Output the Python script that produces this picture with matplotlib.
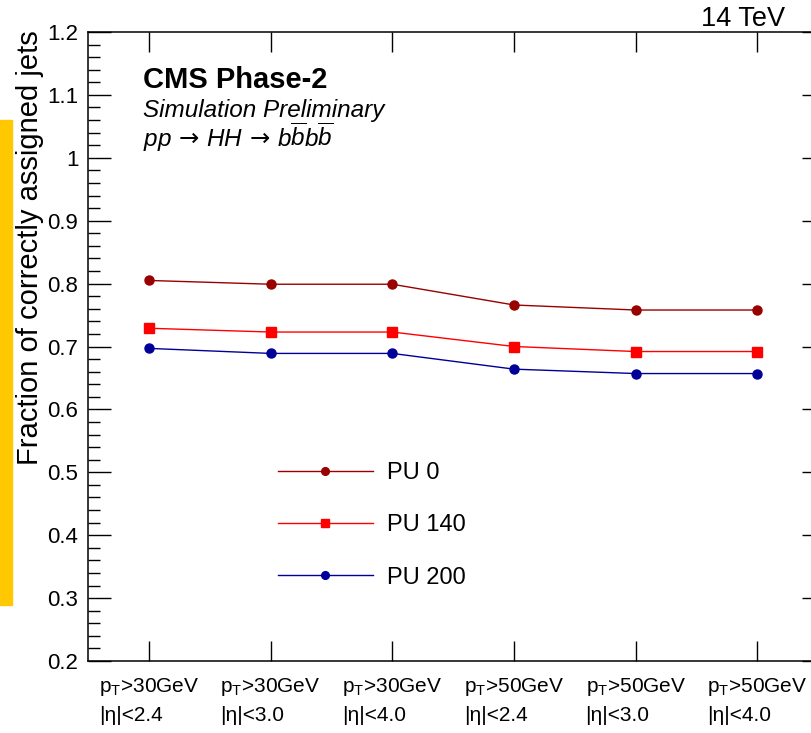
import matplotlib
matplotlib.use("Agg")
import matplotlib.pyplot as plt
from matplotlib.patches import Rectangle
from matplotlib.ticker import MultipleLocator

plt.rcParams["font.family"] = ["Liberation Sans", "DejaVu Sans"]
plt.rcParams["mathtext.fontset"] = "custom"
plt.rcParams["mathtext.rm"] = "Liberation Sans"
plt.rcParams["mathtext.it"] = "Liberation Sans:italic"
plt.rcParams["mathtext.bf"] = "Liberation Sans:bold"

# data
categories = [
    "p$_{\\mathrm{T}}$>30GeV\n|η|<2.4",
    "p$_{\\mathrm{T}}$>30GeV\n|η|<3.0",
    "p$_{\\mathrm{T}}$>30GeV\n|η|<4.0",
    "p$_{\\mathrm{T}}$>50GeV\n|η|<2.4",
    "p$_{\\mathrm{T}}$>50GeV\n|η|<3.0",
    "p$_{\\mathrm{T}}$>50GeV\n|η|<4.0",
]
pu0 = [0.805, 0.799, 0.799, 0.766, 0.758, 0.758]
pu140 = [0.729, 0.723, 0.723, 0.700, 0.692, 0.692]
pu200 = [0.697, 0.689, 0.689, 0.664, 0.657, 0.657]
ylabels = ["0.2", "0.3", "0.4", "0.5", "0.6", "0.7", "0.8", "0.9", "1", "1.1", "1.2"]

W, H = 811, 733


def fx(px):
    return px / W


def fy(py):
    return 1 - py / H


fig = plt.figure(figsize=(W / 100, H / 100), dpi=100)
# right spine sits just outside the picture, as in the original crop
ax = fig.add_axes([fx(88), fy(661), (825 - 88) / W, (661 - 32) / H])

x = list(range(len(categories)))
ax.plot(x, pu0, color="#990000", lw=1, marker="o", ms=6.5, label="PU 0")
ax.plot(x, pu140, color="#ff0000", lw=1, marker="s", ms=7, label="PU 140")
ax.plot(x, pu200, color="#000099", lw=1, marker="o", ms=6.5, label="PU 200")

ax.set_xlim(-0.5, 5.555)
ax.set_ylim(0.2, 1.2)
ax.set_xticks(x)
ax.set_xticklabels(categories, fontsize=15, multialignment="left", linespacing=1.5)
ax.yaxis.set_minor_locator(MultipleLocator(0.02))
ax.set_yticks([0.2 + 0.1 * i for i in range(len(ylabels))])
ax.set_yticklabels(ylabels)
ax.tick_params(axis="y", which="major", direction="in", length=16.5, width=1,
               left=True, right=True, labelsize=16, pad=7)
ax.tick_params(axis="y", which="minor", direction="in", length=8.5, width=1,
               left=True, right=True)
ax.tick_params(axis="x", which="major", direction="in", length=14.5, width=1,
               top=True, bottom=True, pad=11)
for s in ax.spines.values():
    s.set_linewidth(1.1)

leg = ax.legend(loc="upper left", frameon=False, fontsize=17, handlelength=4.0,
                handletextpad=0.6, labelspacing=1.28, markerscale=0.85)
leg.set_bbox_to_anchor((fx(257), fy(441)), transform=fig.transFigure)

fig.text(fx(30), fy(465), "Fraction of correctly assigned jets", rotation=90,
         ha="center", va="bottom", fontsize=21)
fig.text(fx(785), fy(26), "14 TeV", ha="right", va="baseline", fontsize=19.5)
fig.text(fx(143), fy(88), "CMS Phase-2", ha="left", va="baseline", fontsize=21,
         fontweight="bold")
fig.text(fx(143), fy(117), "Simulation Preliminary", ha="left", va="baseline",
         fontsize=17.5, style="italic")
fig.text(fx(143), fy(147),
         r"$pp$ → $HH$ → $b\overline{b}b\overline{b}$",
         ha="left", va="baseline", fontsize=17.5, family="DejaVu Sans")

fig.patches.append(Rectangle((0, fy(605)), fx(12), (605 - 120) / H,
                             transform=fig.transFigure, color="#ffc800", zorder=5))

fig.savefig("out.png", dpi=100)
